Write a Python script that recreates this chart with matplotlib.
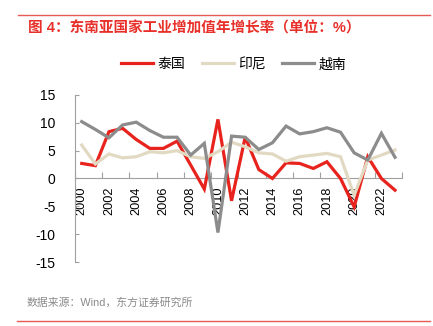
import matplotlib
matplotlib.use("Agg")
import matplotlib.pyplot as plt
from matplotlib.lines import Line2D

plt.rcParams['font.family'] = ['Liberation Sans', 'Noto Sans CJK SC', 'DejaVu Sans']

years = list(range(2000, 2024))
thailand = [2.7, 2.3, 8.4, 9.0, 7.0, 5.4, 5.4, 6.7, 2.4, -1.9, 10.6, -4.0, 7.4, 1.6, 0.0, 2.8,
            2.7, 1.8, 3.0, 0.0, -5.1, 3.9, 0.0, -2.1]
indonesia = [6.0, 2.6, 4.4, 3.7, 3.9, 4.8, 4.6, 5.0, 3.9, 3.6, 4.8, 6.5, 5.7, 4.6, 4.4, 3.1,
             3.9, 4.2, 4.5, 3.9, -3.0, 3.3, 4.2, 5.1]
vietnam = [10.2, 8.8, 7.3, 9.6, 10.1, 8.6, 7.4, 7.4, 4.2, 6.3, -9.7, 7.6, 7.4, 5.2, 6.4, 9.4,
           8.0, 8.4, 9.1, 8.3, 4.6, 3.3, 8.1, 3.8]
series_names = ['泰国', '印尼', '越南']
colors = ['#e8221c', '#e2d9c2', '#8c8c8c']

fig = plt.figure(figsize=(4.33, 3.26), dpi=100)
ax = fig.add_axes([0.173, 0.196, 0.755, 0.513])

for s in ['top', 'right']:
    ax.spines[s].set_visible(False)
ax.spines['bottom'].set_position(('data', 0))
ax.spines['bottom'].set_color('#a0a0a0')
ax.spines['left'].set_color('#a0a0a0')

x = list(range(len(years)))
for vals, c in zip([thailand, indonesia, vietnam], colors):
    ax.plot(x, vals, color=c, lw=2.3, solid_joinstyle='miter', zorder=3)

ax.set_xlim(-0.5, len(years) - 0.5)
ax.set_ylim(-15, 15)
ax.set_yticks(range(-15, 16, 5))
ax.set_yticklabels([str(v) for v in range(-15, 16, 5)], fontsize=10)

# tick marks between categories, year labels drawn below the zero line
ax.set_xticks([i - 0.5 for i in range(0, len(years) + 1, 2)])
ax.set_xticklabels([])
ax.tick_params(axis='x', direction='in', length=4, color='#a0a0a0', width=0.8)
ax.tick_params(axis='y', direction='in', length=3, color='#a0a0a0', width=0.8, pad=14)
for i, y in zip(x[::2], years[::2]):
    ax.annotate(str(y), xy=(i, 0), xytext=(0, -6), textcoords='offset points',
                rotation=90, ha='center', va='top', fontsize=9.2, zorder=1,
                annotation_clip=False)

handles = [Line2D([], [], color=c, lw=2.3) for c in colors]
fig.legend(handles, series_names, loc='center', bbox_to_anchor=(0.54, 0.803), ncol=3,
           frameon=False, fontsize=10, handlelength=2.3, handletextpad=0.3, columnspacing=1.2)

fig.add_artist(Line2D([0.042, 0.993], [1 - 15 / 326, 1 - 15 / 326], color='#e85a55', lw=1.0))
fig.add_artist(Line2D([0.04, 0.993], [1 - 321 / 326, 1 - 321 / 326], color='#e85a55', lw=1.0))
fig.text(0.064, 1 - 28 / 326, '图 4：东南亚国家工业增加值年增长率（单位：%）', color='#e8302a',
         fontsize=10.5, fontweight='bold', va='center', ha='left')
fig.text(0.062, 1 - 303 / 326, '数据来源：Wind，东方证券研究所', color='#8a8a8a',
         fontsize=7.8, va='center', ha='left')

fig.savefig('out.png', dpi=100)
